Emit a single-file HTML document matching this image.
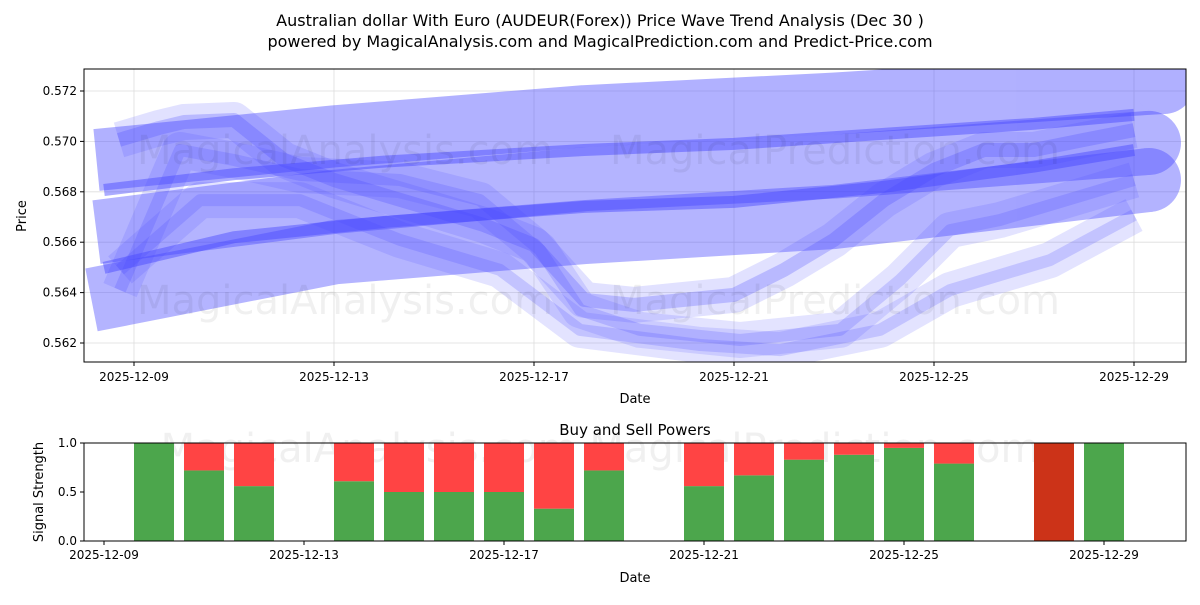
<!DOCTYPE html>
<html><head><meta charset="utf-8"><style>
body{margin:0;background:#fff;font-family:"Liberation Sans","DejaVu Sans",sans-serif}
svg text{font-family:"DejaVu Sans","Liberation Sans",sans-serif}
</style></head><body>
<svg id="c" width="1200" height="600" xmlns="http://www.w3.org/2000/svg">
<rect width="1200" height="600" fill="#fff"/>
<text x="600" y="26" text-anchor="middle" font-size="16">Australian dollar With Euro (AUDEUR(Forex)) Price Wave Trend Analysis (Dec 30 )</text>
<text x="600" y="47" text-anchor="middle" font-size="16">powered by MagicalAnalysis.com and MagicalPrediction.com and Predict-Price.com</text>
<defs><clipPath id="mclip"><rect x="84" y="69" width="1102" height="293"/></clipPath></defs>
<g id="main"></g>
<g id="sub"></g>
</svg>
<script>
// ---- data ----
const mainTicks = [0.562,0.564,0.566,0.568,0.570,0.572];
const dateLabels = ['2025-12-09','2025-12-13','2025-12-17','2025-12-21','2025-12-25','2025-12-29'];
const dateTickDays = [0,4,8,12,16,20];
const bandUpperDays = [-0.75,4,9,14,20.6];
const bandUpperPrices = [0.56926,0.57020,0.57100,0.57150,0.57232];
const bandMidDays = [-0.75,4,9,14,20.3];
const bandMidPrices = [0.56640,0.56760,0.56850,0.56900,0.56994];
const bandLowDays = [-0.85,4,9,14,20.3];
const bandLowPrices = [0.56371,0.56560,0.56640,0.56700,0.56847];
const trendMidDays = [-0.6,2,5,9,12,15,18,20];
const trendMidPrices = [0.56807,0.56870,0.56920,0.56966,0.56990,0.57030,0.57070,0.57105];
const trendLowDays = [-0.6,2,5,9,12,15,18,20];
const trendLowPrices = [0.56498,0.56620,0.56680,0.56740,0.56760,0.56820,0.56900,0.56966];
const wave1Days = [-0.3,0.5,1,2,3,4,5,6,7,8,9,10,11,12,13,14,15,16,17,18,19,20];
const wave1Prices = [0.57006,0.57053,0.57077,0.57085,0.56926,0.56847,0.56787,0.56728,0.56668,0.56589,0.56371,0.56351,0.56371,0.56391,0.56490,0.56609,0.56767,0.56887,0.56966,0.56966,0.57006,0.57045];
const wave2Days = [-0.28,0.92,2,3.32,5.32,6.92,8.12,8.92,10.12,12.12,14.12,15.32,16.32,17.32,20];
const wave2Prices = [0.56410,0.56966,0.56926,0.56867,0.56847,0.56767,0.56569,0.56331,0.56252,0.56212,0.56252,0.56450,0.56648,0.56688,0.56847];
const wave3Days = [-0.28,1.32,3.32,5.32,7.32,8.92,11.32,12.92,14.92,16.32,18.32,20];
const wave3Prices = [0.56490,0.56767,0.56767,0.56609,0.56490,0.56252,0.56192,0.56172,0.56252,0.56410,0.56529,0.56708];
const barDays = [1,2,3,5,6,7,8,9,10,12,13,14,15,16,17,19,20];
const buyValues = [1,0.72,0.56,0.61,0.5,0.5,0.5,0.33,0.72,0.56,0.67,0.83,0.88,0.95,0.79,0,1];
const sellValues = [0,0.28,0.44,0.39,0.5,0.5,0.5,0.67,0.28,0.44,0.33,0.17,0.12,0.05,0.21,1,0];
const subTicks = [0,0.5,1];
const subTickLabels = ['0.0','0.5','1.0'];

const NS='http://www.w3.org/2000/svg';
function mk(parent,tag,attrs,text){const e=document.createElementNS(NS,tag);for(const k in attrs)e.setAttribute(k,attrs[k]);if(text!==undefined)e.textContent=text;parent.appendChild(e);return e;}
const L=84,R=1186,T=69,B=362;
const xm=d=>134+d*50;
const ym=p=>91+(0.572-p)/0.002*50.4;
const xs=d=>104+d*50;
const sT=443,sB=541;
const ys=v=>sB-v*(sB-sT);
const main=document.getElementById('main'), sub=document.getElementById('sub');

mainTicks.forEach(t=>{
 const g=mk(main,'line',{x1:L,x2:R,y1:ym(t),y2:ym(t),stroke:'#ddd','stroke-width':0.8});
 
 
});
dateTickDays.forEach(d=>{
 const g=mk(main,'line',{x1:xm(d),x2:xm(d),y1:T,y2:B,stroke:'#ddd','stroke-width':0.8});
 
 
});
const plot=mk(main,'g',{'clip-path':'url(#mclip)'});


function path(days,prices){return days.map((d,i)=>(i?'L':'M')+xm(d).toFixed(1)+' '+ym(prices[i]).toFixed(1)).join(' ');}
function series(days,prices,w,op,name,roundEnd){
 const g=mk(plot,'g',{opacity:op});
 
 
 mk(g,'path',{d:path(days,prices),fill:'none',stroke:'#4444ff','stroke-width':w,'stroke-linejoin':'round'});
 if(roundEnd){
  const n=days.length-1;
  mk(g,'circle',{cx:xm(days[n]),cy:ym(prices[n]),r:w/2,fill:'#4444ff'});
 }
}
series(bandUpperDays,bandUpperPrices,62,0.42,'upper-trend-band',true);
series(bandMidDays,bandMidPrices,64,0.4,'middle-trend-band',true);
series(bandLowDays,bandLowPrices,64,0.4,'lower-trend-band',true);
series(wave1Days,wave1Prices,36,0.16,'wave-1-band');
series(wave2Days,wave2Prices,36,0.15,'wave-2-band');
series(wave3Days,wave3Prices,36,0.15,'wave-3-band');
series(wave1Days,wave1Prices,14,0.25,'wave-1-line');
series(wave2Days,wave2Prices,12,0.2,'wave-2-line');
series(wave3Days,wave3Prices,12,0.2,'wave-3-line');
series(trendMidDays,trendMidPrices,12,0.45,'middle-trend-line');
series(trendLowDays,trendLowPrices,12,0.45,'lower-trend-line');
[[345,150],[835,150],[345,300],[835,300]].forEach((p,i)=>{
 const t=mk(main,'text',{x:p[0],y:p[1]+14,'text-anchor':'middle','font-size':40,fill:'#000','fill-opacity':0.06},i%2?'MagicalPrediction.com':'MagicalAnalysis.com');
 
 
});

let f=mk(main,'rect',{x:L,y:T,width:R-L,height:B-T,fill:'none',stroke:'#000','stroke-width':1});


mainTicks.forEach(t=>{
 mk(main,'line',{x1:L-4,x2:L,y1:ym(t),y2:ym(t),stroke:'#000'});
 const tx=mk(main,'text',{x:L-7,y:ym(t)+4,'text-anchor':'end','font-size':12},t.toFixed(3));
 
 
});
dateTickDays.forEach((d,i)=>{
 mk(main,'line',{x1:xm(d),x2:xm(d),y1:B,y2:B+4,stroke:'#000'});
 const tx=mk(main,'text',{x:xm(d),y:B+19,'text-anchor':'middle','font-size':12},dateLabels[i]);
 
 
});
let a=mk(main,'text',{x:635,y:403,'text-anchor':'middle','font-size':13},'Date');


a=mk(main,'text',{x:26,y:216,'text-anchor':'middle','font-size':13,transform:'rotate(-90 26 216)'},'Price');



a=mk(sub,'text',{x:635,y:435,'text-anchor':'middle','font-size':15},'Buy and Sell Powers');


a=mk(sub,'text',{x:600,y:462,'text-anchor':'middle','font-size':40,fill:'#000','fill-opacity':0.06},'MagicalAnalysis.com    MagicalPrediction.com');


barDays.forEach((d,i)=>{
 const x=xs(d)-20;
 if(buyValues[i]===0 && sellValues[i]>=0.999){
  const r=mk(sub,'rect',{x:x,y:ys(1),width:40,height:ys(0)-ys(1),fill:'#cc3318'});
  
  
  return;
 }
 const g=mk(sub,'rect',{x:x,y:ys(buyValues[i]),width:40,height:ys(0)-ys(buyValues[i]),fill:'#4ca64c'});
 
 
 if(sellValues[i]>0){
  const r=mk(sub,'rect',{x:x,y:ys(buyValues[i]+sellValues[i]),width:40,height:ys(buyValues[i])-ys(buyValues[i]+sellValues[i]),fill:'#ff4444'});
  
  
 }
});
f=mk(sub,'rect',{x:L,y:sT,width:R-L,height:sB-sT,fill:'none',stroke:'#000','stroke-width':1});


subTicks.forEach((t,i)=>{
 mk(sub,'line',{x1:L-4,x2:L,y1:ys(t),y2:ys(t),stroke:'#000'});
 const tx=mk(sub,'text',{x:L-7,y:ys(t)+4,'text-anchor':'end','font-size':12},subTickLabels[i]);
 
 
});
dateTickDays.forEach((d,i)=>{
 mk(sub,'line',{x1:xs(d),x2:xs(d),y1:sB,y2:sB+4,stroke:'#000'});
 const tx=mk(sub,'text',{x:xs(d),y:sB+18,'text-anchor':'middle','font-size':12},dateLabels[i]);
 
 
});
a=mk(sub,'text',{x:635,y:582,'text-anchor':'middle','font-size':13},'Date');


a=mk(sub,'text',{x:43,y:492,'text-anchor':'middle','font-size':13,transform:'rotate(-90 43 492)'},'Signal Strength');


</script>
</body></html>
